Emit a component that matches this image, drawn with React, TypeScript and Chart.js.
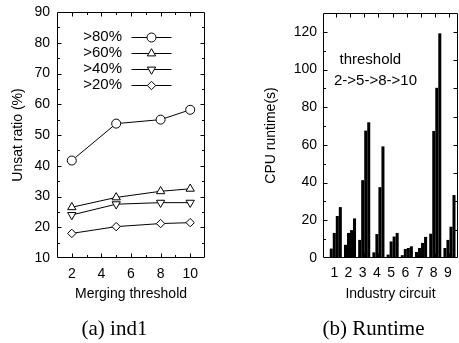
import React, { useEffect, useRef } from 'react';
import { Chart, registerables } from 'chart.js';
import { drawPoint } from 'chart.js/helpers';

Chart.register(...registerables);

// ---------- data: (a) ind1 ----------
const thresholds = [2, 5, 8, 10];
const seriesLabels = ['>80%', '>60%', '>40%', '>20%'];
const unsat80 = [41.7, 53.7, 55.0, 58.2];
const unsat60 = [26.5, 29.7, 31.7, 32.5];
const unsat40 = [24.0, 27.5, 28.0, 28.0];
const unsat20 = [18.0, 20.2, 21.2, 21.5];
const xTicksA = [2, 4, 6, 8, 10];
const yTicksA = [10, 20, 30, 40, 50, 60, 70, 80, 90];

// ---------- data: (b) Runtime ----------
const circuits = [1, 2, 3, 4, 5, 6, 7, 8, 9];
const runtimeT2 = [5.0, 7.0, 9.6, 3.0, 1.8, 1.5, 3.2, 12.9, 5.3];
const runtimeT5 = [13.3, 13.3, 41.3, 12.7, 8.8, 4.8, 5.3, 67.4, 9.6];
const runtimeT8 = [22.3, 14.8, 67.6, 37.6, 11.4, 5.3, 8.0, 90.3, 16.6];
const runtimeT10 = [27.0, 21.0, 72.0, 59.2, 13.3, 6.2, 11.2, 119.2, 33.4];
const runtimeLabels = ['2', '5', '8', '10'];
const yTicksB = [0, 20, 40, 60, 80, 100, 120];
const annotationLines = ['threshold', '2->5->8->10'];

const captions = ['(a) ind1', '(b) Runtime'];

const SANS = "'Liberation Sans', Arial, sans-serif";
Chart.defaults.font.family = SANS;
Chart.defaults.color = '#000';

function stepsIn(min: number, max: number, step: number): number[] {
  const out: number[] = [];
  const n0 = Math.ceil(min / step - 1e-9);
  for (let k = n0; k * step <= max + 1e-9; k++) {
    const v = k * step;
    if (v > min + 1e-9 && v < max - 1e-9) out.push(v);
  }
  return out;
}

// frame + inward ticks on all four sides
const frameTicks = {
  id: 'frameTicks',
  afterDraw(chart: any, _args: any, opts: any) {
    const { ctx, chartArea: a } = chart;
    const xs = chart.scales.x;
    const ys = chart.scales.y;
    ctx.save();
    ctx.strokeStyle = '#000';
    ctx.lineWidth = 1;
    const L = Math.round(a.left) + 0.5;
    const R = Math.round(a.right) - 0.5;
    const T = Math.round(a.top) + 0.5;
    const B = Math.round(a.bottom) - 0.5;
    ctx.beginPath();
    ctx.rect(L, T, R - L, B - T);
    ctx.stroke();
    const major = opts.major ?? 4;
    const minor = opts.minor ?? 2;
    ctx.beginPath();
    const xTicks = (step: number, len: number) => {
      for (const v of stepsIn(xs.min, xs.max, step)) {
        const p = Math.round(xs.getPixelForValue(v)) + 0.5;
        ctx.moveTo(p, B); ctx.lineTo(p, B - len);
        ctx.moveTo(p, T); ctx.lineTo(p, T + len);
      }
    };
    const yTicks = (step: number, len: number, left: boolean, right: boolean) => {
      for (const v of stepsIn(ys.min, ys.max, step)) {
        const p = Math.round(ys.getPixelForValue(v)) + 0.5;
        if (left) { ctx.moveTo(L, p); ctx.lineTo(L + len, p); }
        if (right) { ctx.moveTo(R, p); ctx.lineTo(R - len, p); }
      }
    };
    if (opts.xMinor) xTicks(opts.xMinor, minor);
    if (opts.xMajor) xTicks(opts.xMajor, major);
    const hasY2 = !!opts.y2Step;
    if (opts.yMinor) yTicks(opts.yMinor, minor, true, !hasY2);
    if (opts.yMajor) yTicks(opts.yMajor, major, true, !hasY2);
    if (hasY2) yTicks(opts.y2Step, major, false, true);
    ctx.stroke();
    ctx.restore();
  },
};

// key drawn inside the plot of chart (a): text, line sample, marker
const seriesKey = {
  id: 'seriesKey',
  afterDatasetsDraw(chart: any, _args: any, opts: any) {
    if (!opts || !opts.enabled) return;
    const { ctx, chartArea: a } = chart;
    ctx.save();
    ctx.font = `${opts.fontSize}px ${SANS}`;
    ctx.textAlign = 'right';
    ctx.textBaseline = 'middle';
    chart.data.datasets.forEach((ds: any, i: number) => {
      const y = a.top + opts.top + i * opts.rowGap;
      ctx.fillStyle = '#000';
      ctx.fillText(ds.label, a.left + opts.textRight, y);
      ctx.strokeStyle = '#000';
      ctx.lineWidth = 1;
      ctx.beginPath();
      ctx.moveTo(a.left + opts.lineStart, Math.round(y) + 0.5);
      ctx.lineTo(a.left + opts.lineEnd, Math.round(y) + 0.5);
      ctx.stroke();
      ctx.fillStyle = '#fff';
      drawPoint(ctx, {
        pointStyle: ds.pointStyle,
        radius: ds.pointRadius,
        rotation: ds.pointRotation || 0,
        borderWidth: 1,
      }, a.left + (opts.lineStart + opts.lineEnd) / 2, Math.round(y) + 0.5);
    });
    ctx.restore();
  },
};

const noteText = {
  id: 'noteText',
  afterDatasetsDraw(chart: any, _args: any, opts: any) {
    if (!opts || !opts.lines) return;
    const { ctx, chartArea: a } = chart;
    ctx.save();
    ctx.font = `${opts.fontSize}px ${SANS}`;
    ctx.fillStyle = '#000';
    ctx.textAlign = 'left';
    ctx.textBaseline = 'middle';
    opts.lines.forEach((t: string, i: number) => {
      ctx.fillText(t, a.left + opts.offsets[i], a.top + opts.top + i * opts.rowGap);
    });
    ctx.restore();
  },
};

const tickFont = { size: 14, family: SANS };
const titleFont = { size: 14, family: SANS };

function lineDataset(label: string, ys: number[], style: string, radius: number, rotation = 0) {
  return {
    label,
    data: thresholds.map((t, i) => ({ x: t, y: ys[i] })),
    showLine: true,
    borderColor: '#000',
    borderWidth: 1,
    pointStyle: style,
    pointRadius: radius,
    pointRotation: rotation,
    pointBackgroundColor: '#fff',
    pointBorderColor: '#000',
    pointBorderWidth: 1,
    clip: false,
  };
}

function barDataset(label: string, ys: number[]) {
  return {
    label,
    data: circuits.map((c, i) => ({ x: c, y: ys[i] })),
    backgroundColor: '#000',
    borderWidth: 0,
    barPercentage: 1,
    categoryPercentage: 0.85,
  };
}

const setTicks = (values: number[]) => (s: any) => { s.ticks = values.map((v) => ({ value: v })); };

function LineChartA() {
  const ref = useRef<HTMLCanvasElement>(null);
  useEffect(() => {
    const chart = new Chart(ref.current as HTMLCanvasElement, {
      type: 'scatter',
      data: {
        datasets: [
          lineDataset(seriesLabels[0], unsat80, 'circle', 4.5),
          lineDataset(seriesLabels[1], unsat60, 'triangle', 4.8),
          lineDataset(seriesLabels[2], unsat40, 'triangle', 4.8, 180),
          lineDataset(seriesLabels[3], unsat20, 'rectRot', 4.2),
        ],
      } as any,
      options: {
        animation: false,
        responsive: false,
        maintainAspectRatio: false,
        events: [],
        layout: { padding: { left: 0, top: 12, right: 25, bottom: 0 } },
        plugins: {
          legend: { display: false },
          tooltip: { enabled: false },
          frameTicks: { xMajor: 2, xMinor: 1, yMajor: 10, yMinor: 5, major: 4, minor: 2.5 },
          seriesKey: { enabled: true, fontSize: 15, top: 25, rowGap: 16, textRight: 65, lineStart: 74.5, lineEnd: 114.5 },
        } as any,
        scales: {
          x: {
            type: 'linear', min: 1, max: 11,
            ticks: { font: tickFont, padding: 8, autoSkip: false, maxRotation: 0 },
            grid: { display: false, drawTicks: false },
            border: { display: false },
            title: { display: true, text: 'Merging threshold', font: titleFont, padding: { top: 0, bottom: 15 } },
            afterBuildTicks: setTicks(xTicksA),
            afterFit: (s: any) => { s.height = 60; s.paddingLeft = 0; s.paddingRight = 0; },
          },
          y: {
            type: 'linear', min: 10, max: 90,
            ticks: { font: tickFont, padding: 7, autoSkip: false },
            grid: { display: false, drawTicks: false },
            border: { display: false },
            title: { display: true, text: 'Unsat ratio (%)', font: titleFont, padding: { top: 10, bottom: 0 } },
            afterBuildTicks: setTicks(yTicksA),
            afterFit: (s: any) => { s.width = 57; s.paddingTop = 0; s.paddingBottom = 0; },
          },
        },
      } as any,
      plugins: [frameTicks, seriesKey],
    });
    return () => chart.destroy();
  }, []);
  return <canvas ref={ref} width={230} height={318} style={{ position: 'absolute', left: 0, top: 0, width: 230, height: 318 }} />;
}

function BarChartB() {
  const ref = useRef<HTMLCanvasElement>(null);
  useEffect(() => {
    const chart = new Chart(ref.current as HTMLCanvasElement, {
      type: 'bar',
      data: {
        datasets: [
          barDataset(runtimeLabels[0], runtimeT2),
          barDataset(runtimeLabels[1], runtimeT5),
          barDataset(runtimeLabels[2], runtimeT8),
          barDataset(runtimeLabels[3], runtimeT10),
        ],
      } as any,
      options: {
        animation: false,
        responsive: false,
        maintainAspectRatio: false,
        events: [],
        layout: { padding: { left: 0, top: 13, right: 1, bottom: 0 } },
        plugins: {
          legend: { display: false },
          tooltip: { enabled: false },
          frameTicks: { xMajor: 1, yMajor: 20, yMinor: 10, y2Step: 15, major: 4, minor: 2.5 },
          noteText: { lines: annotationLines, fontSize: 15, offsets: [16.5, 11], top: 47, rowGap: 21 },
        } as any,
        scales: {
          x: {
            type: 'linear', min: 0.1, max: 9.6, offset: false,
            ticks: { font: tickFont, padding: 7, autoSkip: false, maxRotation: 0, labelOffset: -1.5 },
            grid: { display: false, drawTicks: false, offset: false },
            border: { display: false },
            title: { display: true, text: 'Industry circuit', font: titleFont, padding: { top: 0, bottom: 15 } },
            afterBuildTicks: setTicks(circuits),
            afterFit: (s: any) => { s.height = 60; s.paddingLeft = 0; s.paddingRight = 0; },
          },
          y: {
            type: 'linear', min: 0, max: 130,
            ticks: { font: tickFont, padding: 6, autoSkip: false },
            grid: { display: false, drawTicks: false },
            border: { display: false },
            title: { display: true, text: 'CPU runtime(s)', font: titleFont, padding: { top: 33, bottom: 0 } },
            afterBuildTicks: setTicks(yTicksB),
            afterFit: (s: any) => { s.width = 93; s.paddingTop = 0; s.paddingBottom = 0; },
          },
        },
      } as any,
      plugins: [frameTicks, noteText],
    });
    return () => chart.destroy();
  }, []);
  return <canvas ref={ref} width={229} height={318} style={{ position: 'absolute', left: 230, top: 0, width: 229, height: 318 }} />;
}

export default function App() {
  const capStyle = (center: number): React.CSSProperties => ({
    position: 'absolute',
    left: center - 100,
    width: 200,
    top: 316,
    lineHeight: '24px',
    textAlign: 'center',
    fontFamily: "'Liberation Serif', 'Times New Roman', serif",
    fontSize: 21,
    color: '#000',
    whiteSpace: 'nowrap',
  });
  return (
    <div style={{ position: 'absolute', left: 0, top: 0, width: 459, height: 343, background: '#fff', overflow: 'hidden' }}>
      <LineChartA />
      <BarChartB />
      <div style={capStyle(114.5)}>{captions[0]}</div>
      <div style={capStyle(373.5)}>{captions[1]}</div>
    </div>
  );
}
